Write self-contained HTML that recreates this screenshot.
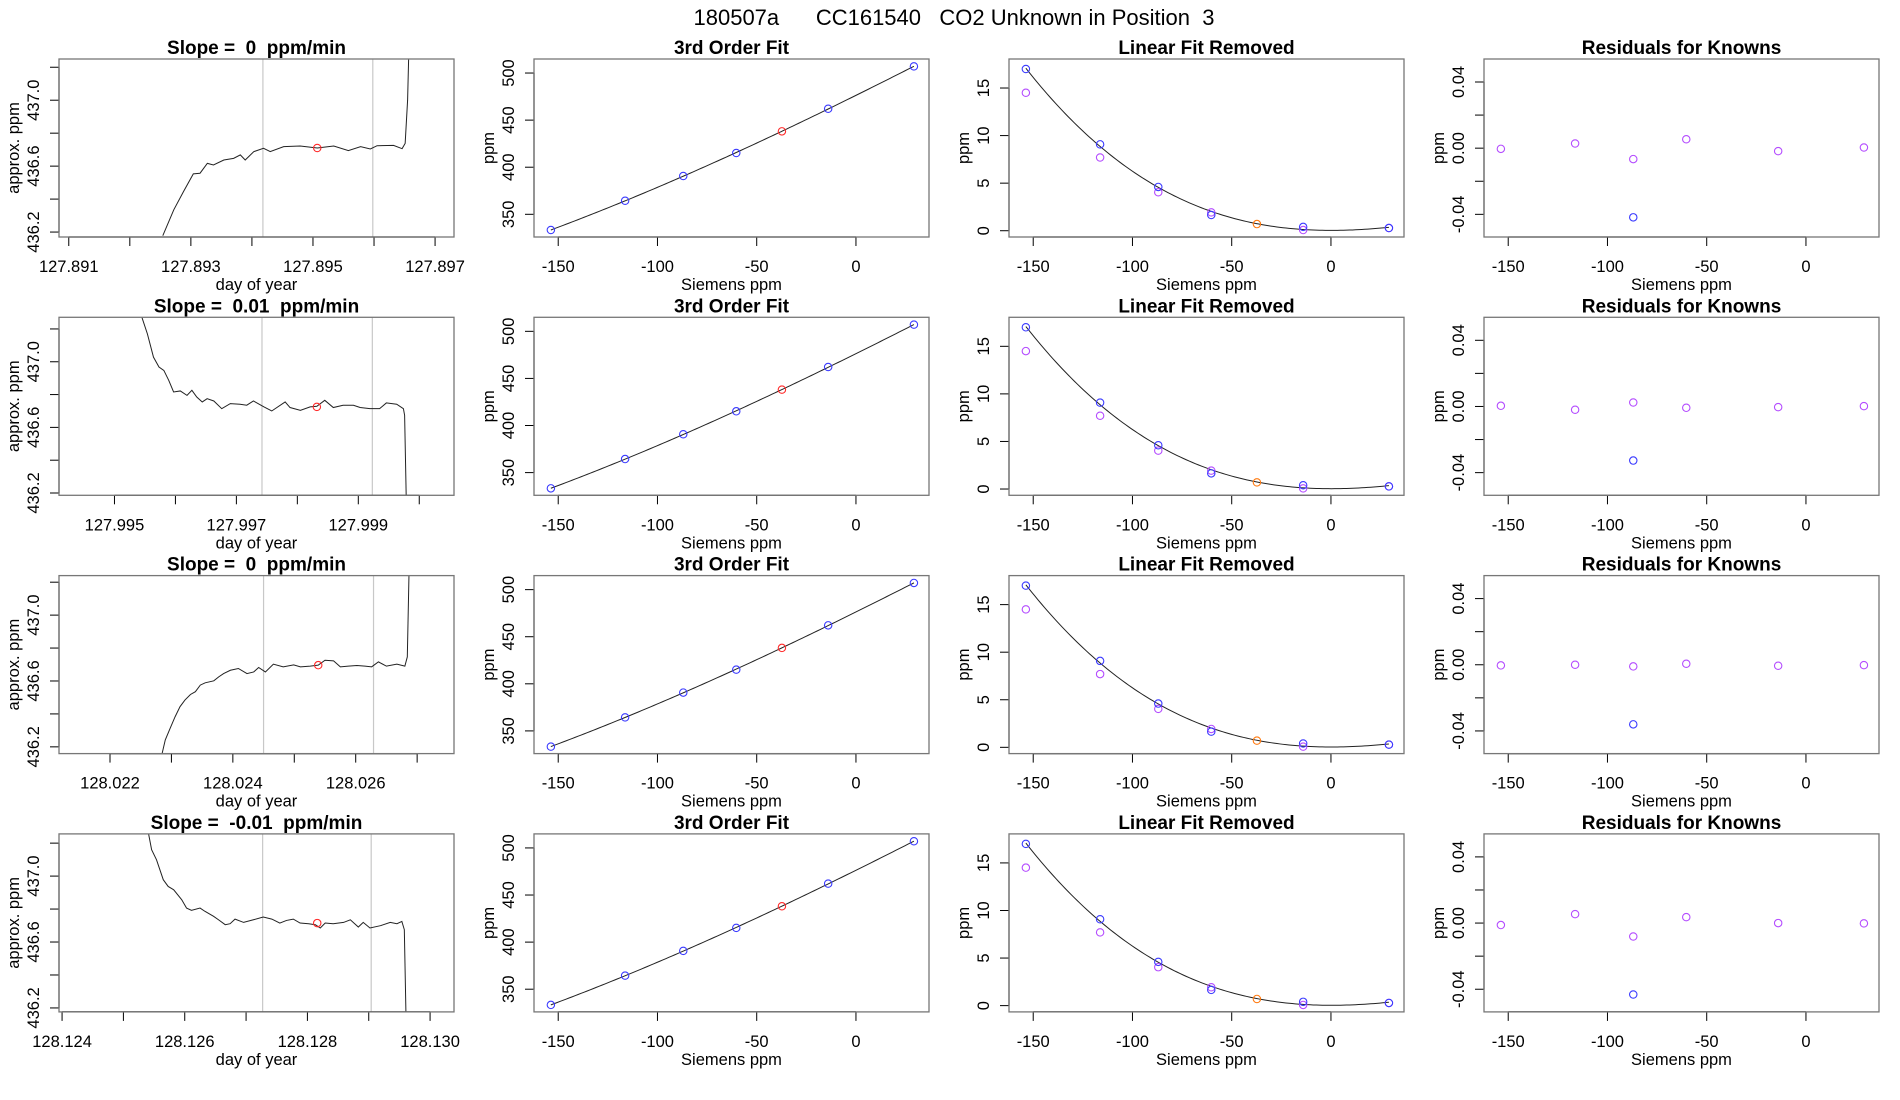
<!DOCTYPE html>
<html><head><meta charset="utf-8">
<style>
html,body{margin:0;padding:0;background:#fff;}
svg{display:block;font-family:"Liberation Sans",Arial,sans-serif;}
text{white-space:pre;}
</style></head>
<body>
<svg id="chart" width="1900" height="1100" viewBox="0 0 1900 1100" xmlns="http://www.w3.org/2000/svg">
<text x="954" y="25" font-size="22" text-anchor="middle" xml:space="preserve">180507a      CC161540   CO2 Unknown in Position  3</text>
</svg>
<script>
// ---------- data ----------
const slopeLabels = ["0", "0.01", "0", "-0.01"];
const t1 = [127.89254,127.89272,127.89288,127.89304,127.89315,127.89327,127.89337,127.89354,127.89370,127.89381,127.89389,127.89403,127.89419,127.89430,127.89452,127.89479,127.89507,127.89534,127.89558,127.89578,127.89594,127.89605,127.89632,127.89646,127.89651,127.89655,127.89657];
const v1 = [436.178,436.335,436.446,436.553,436.557,436.617,436.607,436.637,436.647,436.668,436.637,436.688,436.708,436.688,436.718,436.722,436.710,436.722,436.694,436.718,436.704,436.724,436.726,436.706,436.738,437.0,437.3];
const t2 = [127.99545,127.99554,127.99564,127.99573,127.99581,127.99589,127.99597,127.99608,127.99619,127.99627,127.99635,127.99644,127.99652,127.99663,127.99676,127.99690,127.99706,127.99717,127.99728,127.99745,127.99758,127.99780,127.99788,127.99805,127.99821,127.99832,127.99845,127.99859,127.99875,127.99892,127.99903,127.99919,127.99935,127.99946,127.99963,127.99974,127.99976,127.99979];
const v2 = [437.271,437.170,437.028,436.968,436.947,436.887,436.816,436.822,436.795,436.826,436.785,436.755,436.775,436.761,436.714,436.745,436.741,436.735,436.761,436.725,436.700,436.755,436.721,436.704,436.725,436.729,436.765,436.721,436.735,436.735,436.721,436.714,436.714,436.749,436.741,436.714,436.674,436.1];
const t3 = [128.02285,128.02290,128.02298,128.02306,128.02314,128.02322,128.02331,128.02339,128.02347,128.02355,128.02369,128.02377,128.02385,128.02396,128.02409,128.02423,128.02434,128.02442,128.02453,128.02466,128.02482,128.02499,128.02510,128.02526,128.02539,128.02550,128.02564,128.02575,128.02588,128.02602,128.02615,128.02626,128.02637,128.02650,128.02667,128.02680,128.02684,128.02687];
const v3 = [436.162,436.242,436.313,436.383,436.444,436.484,436.518,436.535,436.575,436.589,436.601,436.625,436.645,436.665,436.676,436.645,436.655,436.682,436.655,436.702,436.686,436.698,436.686,436.690,436.696,436.726,436.722,436.686,436.690,436.694,436.690,436.686,436.716,436.690,436.702,436.690,436.746,437.3];
const t4 = [128.12541,128.12546,128.12554,128.12565,128.12573,128.12582,128.12595,128.12603,128.12611,128.12625,128.12633,128.12647,128.12655,128.12666,128.12674,128.12682,128.12696,128.12712,128.12728,128.12742,128.12755,128.12766,128.12777,128.12788,128.12802,128.12813,128.12821,128.12829,128.12842,128.12859,128.12870,128.12883,128.12891,128.12902,128.12919,128.12935,128.12946,128.12954,128.12958,128.12961];
const v4 = [437.257,437.160,437.099,436.978,436.937,436.917,436.857,436.806,436.792,436.806,436.786,436.756,436.735,436.705,436.711,436.739,436.719,436.735,436.752,436.739,436.715,436.731,436.739,436.715,436.711,436.705,436.685,436.715,436.711,436.719,436.735,436.691,436.719,436.685,436.699,436.719,436.711,436.725,436.675,436.1];
const seriesT = [t1,t2,t3,t4];
const seriesV = [v1,v2,v3,v4];
const windowStart = [127.89418,127.99742,128.02450,128.12727];
const windowEnd = [127.89598,127.99923,128.02629,128.12904];
const unknownT = [127.89507,127.99832,128.02539,128.12816];
const unknownV = [436.710,436.725,436.696,436.715];
const timeXMin = [127.89084,127.99409,128.02117,128.12395];
const timeXMax = [127.89731,128.00057,128.02760,128.13039];
const timeYMin = [436.17,436.186,436.159,436.176];
const timeYMax = [437.25,437.271,437.240,437.256];
const timeTicks = [
 [127.891,127.892,127.893,127.894,127.895,127.896,127.897],
 [127.995,127.996,127.997,127.998,127.999,128.000],
 [128.022,128.023,128.024,128.025,128.026,128.027],
 [128.124,128.125,128.126,128.127,128.128,128.129,128.130]];
const timeTickLabels = [
 ["127.891","","127.893","","127.895","","127.897"],
 ["127.995","","127.997","","127.999",""],
 ["128.022","","128.024","","128.026",""],
 ["128.124","","128.126","","128.128","","128.130"]];
const ppmTicks = [436.2,436.4,436.6,436.8,437.0,437.2];
const ppmTickLabels = ["436.2","","436.6","","437.0",""];
const siemens = [-153.7,-116.3,-87.0,-60.3,-14.0,29.2];
const refPpm = [333.3,364.4,390.7,415.1,462.1,507.1];
const unkSiemens = -37.3;
const unkPpm = 438.1;
const linRemBlue = [17.0,9.08,4.6,1.65,0.4,0.28];
const linRemPurple = [14.5,7.7,4.04,1.93,0.07,0.28];
const unkLinRem = 0.7;
const residPurple = [
 [-0.0004,0.0028,-0.0066,0.0054,-0.0018,0.0004],
 [0.0004,-0.002,0.0024,-0.0008,-0.0004,0.0002],
 [-0.0004,0.0,-0.001,0.0006,-0.0006,-0.0002],
 [-0.0012,0.0054,-0.0081,0.0036,0.0,-0.0002]];
const residBlue = [-0.0418,-0.0327,-0.036,-0.0432];
const residBlueIdx = 2;
const sTicks = [-150,-100,-50,0];
const fitTicks = [350,400,450,500];
const linTicks = [0,5,10,15];
const resTicks = [-0.04,-0.02,0,0.02,0.04];
const resTickLabels = ["-0.04","","0.00","","0.04"];

// ---------- drawing ----------
const NS = "http://www.w3.org/2000/svg";
const svg = document.getElementById('chart');
function el(tag, attrs, parent, txt){
  const e = document.createElementNS(NS, tag);
  for (const k in attrs) e.setAttribute(k, attrs[k]);
  if (txt !== undefined) e.textContent = txt;
  (parent||svg).appendChild(e);
  return e;
}
const BOX_W = 395, BOX_H = 178;
function scale(d0,d1,r0,r1){ return v => r0 + (v-d0)/(d1-d0)*(r1-r0); }

function cubicFit(xs, ys){
  const n = 4;
  const M = [];
  for (let a = 0; a < n; a++) { M.push([0,0,0,0,0]); }
  for (let i = 0; i < xs.length; i++) {
    const u = xs[i] / 100;
    const p = [1, u, u*u, u*u*u];
    for (let a = 0; a < n; a++) {
      for (let b = 0; b < n; b++) { M[a][b] += p[a]*p[b]; }
      M[a][n] += p[a]*ys[i];
    }
  }
  for (let i = 0; i < n; i++) {
    let m = i;
    for (let k = i+1; k < n; k++) { if (Math.abs(M[k][i]) > Math.abs(M[m][i])) { m = k; } }
    const tmp = M[i]; M[i] = M[m]; M[m] = tmp;
    for (let k = 0; k < n; k++) {
      if (k === i) { continue; }
      const f = M[k][i] / M[i][i];
      for (let j = 0; j <= n; j++) { M[k][j] -= f*M[i][j]; }
    }
  }
  const c = [];
  for (let i = 0; i < n; i++) { c.push(M[i][n] / M[i][i]); }
  return function(x){ const u = x/100; return c[0] + c[1]*u + c[2]*u*u + c[3]*u*u*u; };
}

let clipId = 0;
function panel(r, c, opts){
  const left = 59 + 475*c, top = 59 + 258.3*r, right = left+BOX_W, bottom = top+BOX_H;
  const g = el('g', {});
  
  
  const sx = scale(opts.xmin, opts.xmax, left, right);
  const sy = scale(opts.ymin, opts.ymax, bottom, top);
  const cid = 'clip'+(clipId++);
  const cp = el('clipPath', {id:cid}, g);
  el('rect', {x:left, y:top, width:BOX_W, height:BOX_H}, cp);
  const plot = el('g', {'clip-path':'url(#'+cid+')'}, g);
  
  
  const tt = el('text', {x:left+BOX_W/2, y:top-5, 'font-size':19, 'font-weight':'bold', 'text-anchor':'middle'}, g, opts.title);
  
  
  const xa = el('g', {}, g);
  
  
  const xt = opts.xticks;
  el('line', {x1:sx(xt[0]), x2:sx(xt[xt.length-1]), y1:bottom, y2:bottom, stroke:'#000', 'stroke-width':1.2}, xa);
  xt.forEach((v,i)=>{
    el('line', {x1:sx(v), x2:sx(v), y1:bottom, y2:bottom+9, stroke:'#000', 'stroke-width':1}, xa);
    const lab = opts.xlabels[i];
    if (lab) {
      const t = el('text', {x:sx(v), y:bottom+35, 'font-size':16.5, 'text-anchor':'middle'}, xa, lab);
      
      
    }
  });
  const xl = el('text', {x:left+BOX_W/2, y:bottom+53, 'font-size':16.5, 'text-anchor':'middle'}, g, opts.xtitle);
  
  
  const ya = el('g', {}, g);
  
  
  const yt = opts.yticks;
  el('line', {x1:left, x2:left, y1:sy(yt[0]), y2:sy(yt[yt.length-1]), stroke:'#000', 'stroke-width':1.2}, ya);
  yt.forEach((v,i)=>{
    el('line', {x1:left-9, x2:left, y1:sy(v), y2:sy(v), stroke:'#000', 'stroke-width':1}, ya);
    const lab = opts.ylabels[i];
    if (lab) {
      const t = el('text', {x:0, y:0, 'font-size':16.5, 'text-anchor':'middle', transform:`translate(${left-20},${sy(v)}) rotate(-90)`}, ya, lab);
      
      
    }
  });
  const yl = el('text', {x:0, y:0, 'font-size':16.5, 'text-anchor':'middle', transform:`translate(${left-40},${top+BOX_H/2}) rotate(-90)`}, g, opts.ytitle);
  
  
  const bx = el('rect', {x:left, y:top, width:BOX_W, height:BOX_H, fill:'none', stroke:'#777', 'stroke-width':1.3}, g);
  
  
  return {plot, sx, sy};
}
function circle(p, x, y, color, name){
  const c = el('circle', {cx:p.sx(x), cy:p.sy(y), r:3.7, fill:'none', stroke:color, 'stroke-width':1.1}, p.plot);
  
  
}
function curve(p, f, x0, x1, name){
  let path = '';
  for (let i = 0; i <= 120; i++) {
    const x = x0 + (x1-x0)*i/120;
    path += (i ? 'L' : 'M') + p.sx(x).toFixed(2) + ',' + p.sy(f(x)).toFixed(2);
  }
  const e = el('path', {d:path, fill:'none', stroke:'#222', 'stroke-width':1}, p.plot);
  
  
}

const BLUE='#3a3aff', PURPLE='#b44cff', RED='#ff2a2a', ORANGE='#ff7a10';
const fitF = cubicFit(siemens, refPpm);
const linF = cubicFit(siemens, linRemBlue);
const SXMIN=-162.2, SXMAX=36.8;

for (let r=0;r<4;r++){
  const p1 = panel(r,0,{name:'trace-panel-'+(r+1), title:'Slope =  '+slopeLabels[r]+'  ppm/min',
    xmin:timeXMin[r], xmax:timeXMax[r], ymin:timeYMin[r], ymax:timeYMax[r],
    xticks:timeTicks[r], xlabels:timeTickLabels[r], yticks:ppmTicks, ylabels:ppmTickLabels,
    xtitle:'day of year', ytitle:'approx. ppm'});
  [windowStart[r], windowEnd[r]].forEach((w,i)=>{
    const l = el('line', {x1:p1.sx(w), x2:p1.sx(w), y1:0, y2:1100, stroke:'#c8c8c8', 'stroke-width':1.2}, p1.plot);
    
    
  });
  const tp = seriesT[r].map((t,i)=>(i?'L':'M')+p1.sx(t).toFixed(2)+','+p1.sy(seriesV[r][i]).toFixed(2)).join('');
  const tr = el('path', {d:tp, fill:'none', stroke:'#222', 'stroke-width':1}, p1.plot);
  
  
  circle(p1, unknownT[r], unknownV[r], RED, 'unknown-mean-point');

  const p2 = panel(r,1,{name:'fit-panel-'+(r+1), title:'3rd Order Fit', xmin:SXMIN, xmax:SXMAX, ymin:325.9, ymax:514.9,
    xticks:sTicks, xlabels:sTicks.map(String), yticks:fitTicks, ylabels:fitTicks.map(String),
    xtitle:'Siemens ppm', ytitle:'ppm'});
  curve(p2, fitF, siemens[0], siemens[siemens.length-1], 'cubic-fit-line');
  siemens.forEach((s,i)=>circle(p2, s, refPpm[i], BLUE, 'known-point'));
  circle(p2, unkSiemens, unkPpm, RED, 'unknown-point');

  const p3 = panel(r,2,{name:'linear-removed-panel-'+(r+1), title:'Linear Fit Removed', xmin:SXMIN, xmax:SXMAX, ymin:-0.66, ymax:18.05,
    xticks:sTicks, xlabels:sTicks.map(String), yticks:linTicks, ylabels:linTicks.map(String),
    xtitle:'Siemens ppm', ytitle:'ppm'});
  curve(p3, linF, siemens[0], siemens[siemens.length-1], 'curvature-line');
  siemens.forEach((s,i)=>circle(p3, s, linRemPurple[i], PURPLE, 'known-alt-point'));
  siemens.forEach((s,i)=>circle(p3, s, linRemBlue[i], BLUE, 'known-point'));
  circle(p3, unkSiemens, unkLinRem, ORANGE, 'unknown-point');

  const p4 = panel(r,3,{name:'residual-panel-'+(r+1), title:'Residuals for Knowns', xmin:SXMIN, xmax:SXMAX, ymin:-0.0537, ymax:0.0539,
    xticks:sTicks, xlabels:sTicks.map(String), yticks:resTicks, ylabels:resTickLabels,
    xtitle:'Siemens ppm', ytitle:'ppm'});
  siemens.forEach((s,i)=>circle(p4, s, residPurple[r][i], PURPLE, 'residual-point'));
  circle(p4, siemens[residBlueIdx], residBlue[r], BLUE, 'residual-outlier-point');
}
</script>
</body></html>
